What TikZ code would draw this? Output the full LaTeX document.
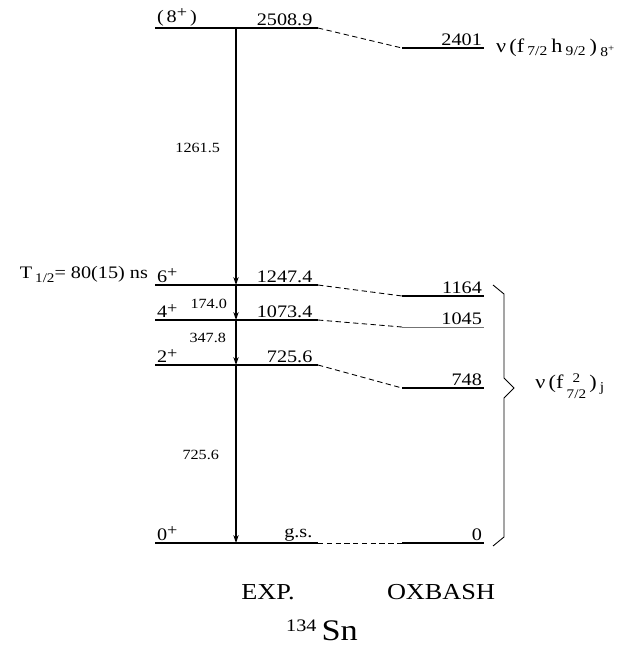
\documentclass[tikz,border=0pt]{standalone}
\usepackage{fontspec}
\setmainfont{Liberation Serif}[FakeStretch=1.15]
\usetikzlibrary{arrows.meta, positioning}
\newcommand\plus{\raisebox{0.6ex}{\fontsize{9}{10}\selectfont +}}
\tikzset{
    level/.style={line width=0.8pt},
    weaklevel/.style={line width=0.5pt, black!55},
    link/.style={dash pattern=on 3pt off 2pt, line width=0.5pt},
    gamma/.style={-{Stealth[length=4.5pt, width=3pt]}, line width=0.6pt},
    elbl/.style={font=\fontsize{10}{12}\selectfont, inner sep=1pt},
    glbl/.style={font=\fontsize{8}{10}\selectfont, inner sep=1pt},
    conf/.style={font=\fontsize{11}{12}\selectfont, inner sep=1pt, anchor=west},
    title/.style={font=\fontsize{13}{15}\selectfont, inner sep=0pt},
}

\begin{document}
\begin{tikzpicture}[x=0.02cm, y=-0.02cm]
    \useasboundingbox (0,0) rectangle (638,649);

    % experimental levels
    \coordinate (e8l) at (155,28);   \coordinate (e8r) at (318,28);
    \coordinate (e6l) at (155,285);  \coordinate (e6r) at (318,285);
    \coordinate (e4l) at (155,320);  \coordinate (e4r) at (318,320);
    \coordinate (e2l) at (155,365);  \coordinate (e2r) at (318,365);
    \coordinate (e0l) at (155,543);  \coordinate (e0r) at (318,543);

    % OXBASH levels
    \coordinate (t8l) at (402,48);   \coordinate (t8r) at (484,48);
    \coordinate (t6l) at (402,296);  \coordinate (t6r) at (484,296);
    \coordinate (t4l) at (402,327);  \coordinate (t4r) at (484,327);
    \coordinate (t2l) at (402,388);  \coordinate (t2r) at (484,388);
    \coordinate (t0l) at (402,543);  \coordinate (t0r) at (484,543);

    \draw[level] (e8l) -- (e8r);
    \draw[level] (e6l) -- (e6r);
    \draw[level] (e4l) -- (e4r);
    \draw[level] (e2l) -- (e2r);
    \draw[level] (e0l) -- (e0r);

    \draw[level] (t8l) -- (t8r);
    \draw[level] (t6l) -- (t6r);
    \draw[weaklevel] (t4l) -- (t4r);
    \draw[level] (t2l) -- (t2r);
    \draw[level] (t0l) -- (t0r);

    \draw[link] (e8r) -- (t8l);
    \draw[link] (e6r) -- (t6l);
    \draw[link] (e4r) -- (t4l);
    \draw[link] (e2r) -- (t2l);
    \draw[link] (e0r) -- (t0l);

    % spins and energies
    \node[elbl, anchor=south west] (s8) at (e8l) {(\,8\plus\,)};
    \node[elbl, anchor=south east] (x8) at ([xshift=-2pt]e8r) {2508.9};
    \node[elbl, anchor=south west] (s6) at (e6l) {6\plus};
    \node[elbl, anchor=south east] (x6) at ([xshift=-2pt]e6r) {1247.4};
    \node[elbl, anchor=south west] (s4) at (e4l) {4\plus};
    \node[elbl, anchor=south east] (x4) at ([xshift=-2pt]e4r) {1073.4};
    \node[elbl, anchor=south west] (s2) at (e2l) {2\plus};
    \node[elbl, anchor=south east] (x2) at ([xshift=-2pt]e2r) {725.6};
    \node[elbl, anchor=south west] (s0) at (e0l) {0\plus};
    \node[elbl, anchor=south east] (x0) at ([xshift=-2pt]e0r) {g.s.};

    \node[elbl, anchor=south east] (y8) at (t8r) {2401};
    \node[elbl, anchor=south east] (y6) at (t6r) {1164};
    \node[elbl, anchor=south east] (y4) at (t4r) {1045};
    \node[elbl, anchor=south east] (y2) at (t2r) {748};
    \node[elbl, anchor=south east] (y0) at (t0r) {0};

    \node[elbl, anchor=east] (half) at (150,274)
        {T\,\raisebox{-0.5ex}{\fontsize{7.5}{9}\selectfont 1/2}= 80(15) ns};

    % gamma cascade
    \coordinate (g8) at (236,28);
    \coordinate (g6) at (236,285);
    \coordinate (g4) at (236,320);
    \coordinate (g2) at (236,365);
    \coordinate (g0) at (236,543);
    \draw[gamma] (g8) -- (g6);
    \draw[gamma] (g6) -- (g4);
    \draw[gamma] (g4) -- (g2);
    \draw[gamma] (g2) -- (g0);

    \node[glbl, anchor=east] (l1261) at (222,148) {1261.5};
    \node[glbl, anchor=east] (l174) at (229,304) {174.0};
    \node[glbl, anchor=east] (l347) at (228,338) {347.8};
    \node[glbl, anchor=east] (l725) at (221,455) {725.6};

    % configurations
    \node[conf] (c8) at (494,48)
        {ν\,(f\,\textsubscript{7/2}\,h\,\textsubscript{9/2}\,)\,\textsubscript{8\textsuperscript{+}}};

    \coordinate (bt) at (493,285);
    \coordinate (bb) at (493,546);
    \coordinate (tip) at (514,388);
    \draw[line width=0.5pt] (bt) -- (504,294) -- (504,378) -- (tip)
        -- (504,398) -- (504,537) -- (bb);
    \node[conf] (c2) at ([xshift=11pt]tip)
        {ν\,(f\,\raisebox{-0.3ex}{\fontsize{7.5}{7.5}\selectfont
        \begin{tabular}{@{}c@{}}2\\[1.5pt]7/2\end{tabular}}\,)\,\textsubscript{j}};

    % captions
    \node[title] (exp) at (268,592) {EXP.};
    \node[title] (oxb) at (441,592) {OXBASH};
    \node[inner sep=0pt, font=\fontsize{17}{20}\selectfont] (nuc) at (322,630)
        {\raisebox{5pt}{\fontsize{10}{12}\selectfont 134}\,Sn};
\end{tikzpicture}
\end{document}
